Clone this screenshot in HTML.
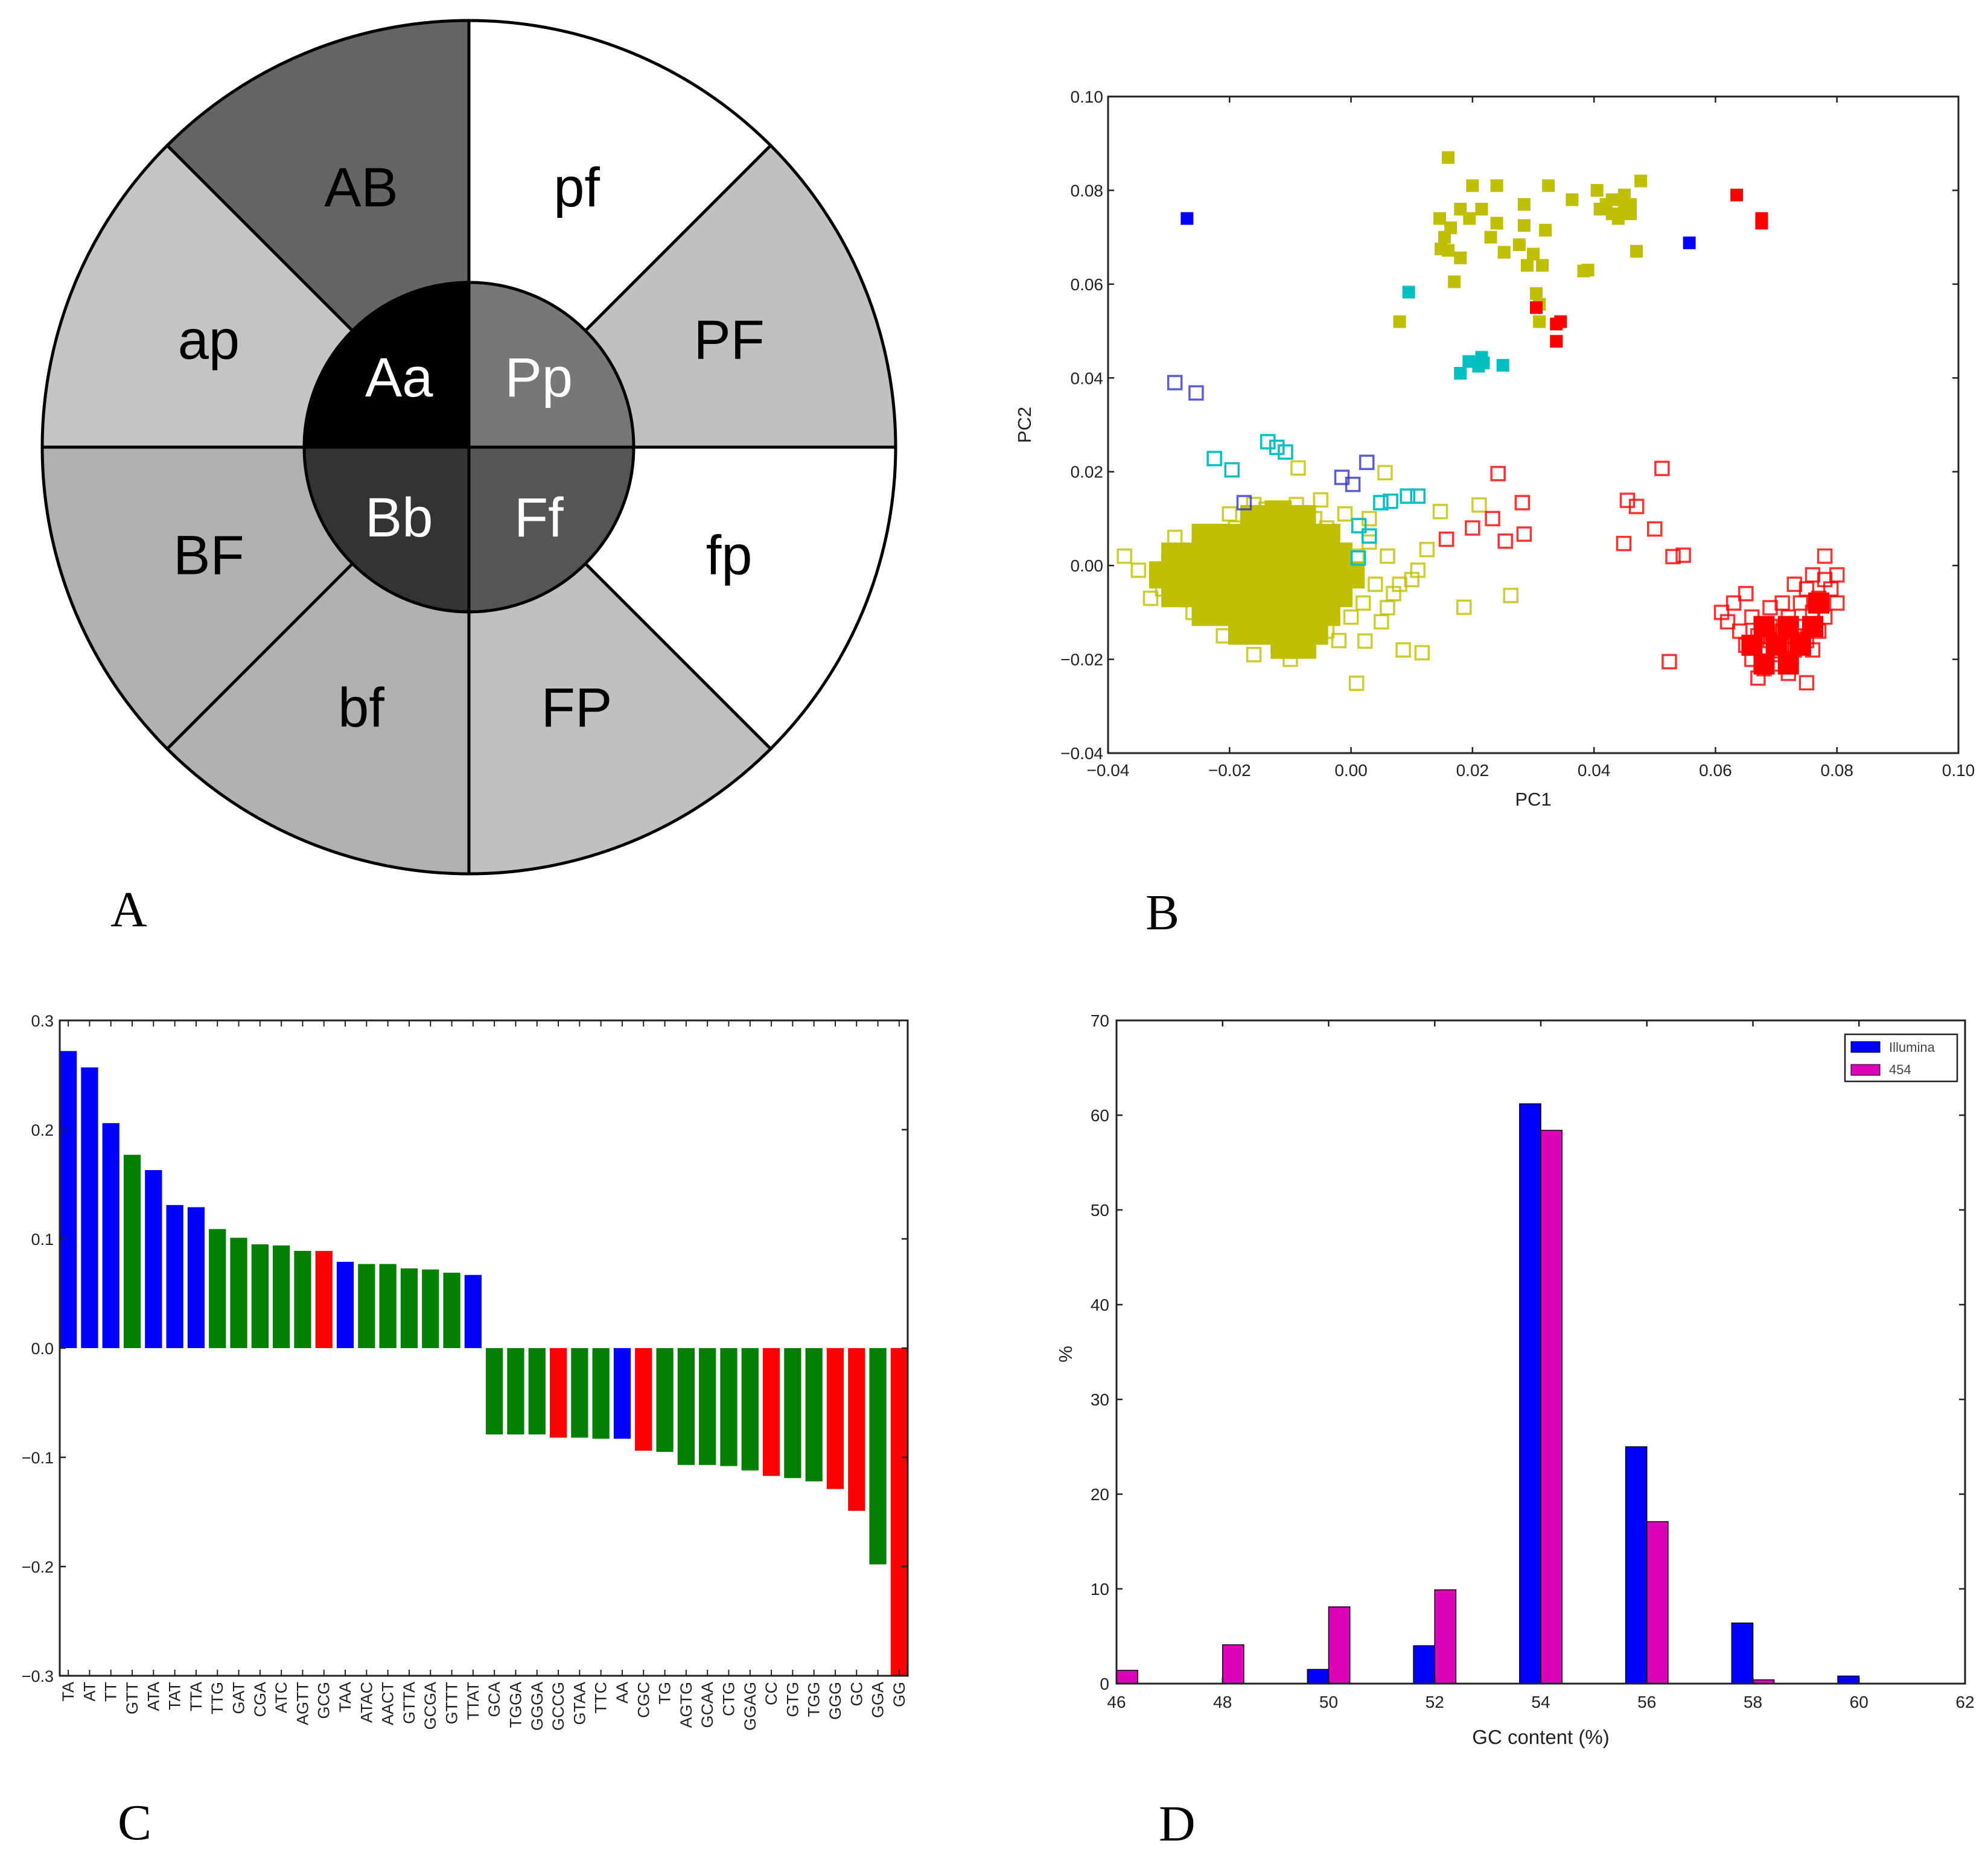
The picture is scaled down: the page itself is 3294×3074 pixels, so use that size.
<!DOCTYPE html>
<html><head><meta charset="utf-8">
<style>
html,body{margin:0;padding:0;background:#fff;}
svg{display:block;}
text{font-family:"Liberation Sans","DejaVu Sans",sans-serif;}
.serif{font-family:"Liberation Serif",serif;}
</style></head>
<body>
<svg id="fig" xmlns="http://www.w3.org/2000/svg" width="3294" height="3074" viewBox="0 0 3294 3074">
<rect x="0" y="0" width="3294" height="3074" fill="#fff"/>
<g id="panelA"></g>
<g id="panelB"></g>
<g id="panelC"></g>
<g id="panelD"></g>
<text class="serif" x="183" y="1535" font-size="84">A</text>
<text class="serif" x="1898" y="1540" font-size="84">B</text>
<text class="serif" x="195" y="3048" font-size="84">C</text>
<text class="serif" x="1920" y="3050" font-size="84">D</text>
</svg>
<script>
// ---------- Panel A data ----------
const outerLabels = ["pf","PF","fp","FP","bf","BF","ap","AB"];
const outerFills = ["#ffffff","#c0c0c0","#ffffff","#c0c0c0","#b0b0b0","#b0b0b0","#c4c4c4","#646464"];
const innerLabels = ["Pp","Ff","Bb","Aa"];
const innerFills = ["#777777","#555555","#333333","#000000"];

// ---------- Panel B data ----------
const yellowFilled = [[0.016,0.087],[0.020,0.081],[0.024,0.081],[0.0325,0.081],[0.0477,0.082],[0.0405,0.080],[0.018,0.076],[0.0215,0.076],[0.0285,0.077],[0.0364,0.078],[0.0146,0.074],[0.0195,0.074],[0.024,0.073],[0.0285,0.0725],[0.032,0.0715],[0.0164,0.072],[0.0154,0.070],[0.0148,0.0675],[0.016,0.0672],[0.018,0.0656],[0.023,0.070],[0.0252,0.0668],[0.0277,0.0684],[0.030,0.0664],[0.0315,0.064],[0.029,0.064],[0.017,0.0605],[0.0383,0.0628],[0.039,0.063],[0.047,0.067],[0.0305,0.058],[0.031,0.0557],[0.031,0.052],[0.008,0.052],[0.042,0.077],[0.044,0.078],[0.045,0.076],[0.043,0.075],[0.046,0.077],[0.041,0.076],[0.044,0.074],[0.045,0.079],[0.046,0.075],[0.043,0.078]];
const blueFilled = [[-0.027,0.074],[0.0557,0.0688]];
const redFilled = [[0.0635,0.079],[0.0676,0.074],[0.0676,0.073],[0.0305,0.055],[0.0338,0.0515],[0.0345,0.052],[0.0338,0.0478]];
const cyanFilled = [[0.0095,0.0583],[0.018,0.041],[0.0194,0.0435],[0.0215,0.0444],[0.0218,0.0432],[0.021,0.0425],[0.025,0.0427]];
const blueOpen = [[-0.029,0.039],[-0.0255,0.0368],[-0.0176,0.0134],[-0.0015,0.0188],[0.0003,0.0173],[0.0026,0.022]];
const cyanOpen = [[-0.0225,0.0228],[-0.0196,0.0204],[-0.0137,0.0264],[-0.0122,0.0252],[-0.0108,0.0242],[0.0049,0.0134],[0.0065,0.0137],[0.0093,0.0148],[0.011,0.0148],[0.0013,0.0085],[0.003,0.0063],[0.0012,0.0016]];
const redOpen = [[0.0242,0.0196],[0.0512,0.0207],[0.0282,0.0134],[0.0233,0.010],[0.020,0.008],[0.0157,0.0056],[0.0254,0.0052],[0.0285,0.0067],[0.0455,0.0139],[0.047,0.0126],[0.050,0.0078],[0.0449,0.0047],[0.053,0.0019],[0.0547,0.0022],[0.0524,-0.0205],
[0.061,-0.010],[0.062,-0.012],[0.063,-0.008],[0.064,-0.014],[0.065,-0.017],[0.066,-0.011],[0.066,-0.020],[0.067,-0.015],[0.068,-0.018],[0.068,-0.022],[0.069,-0.013],[0.069,-0.016],[0.070,-0.019],[0.070,-0.021],[0.071,-0.014],[0.071,-0.017],[0.072,-0.011],[0.072,-0.020],[0.073,-0.015],[0.073,-0.018],[0.074,-0.008],[0.074,-0.013],[0.075,-0.016],[0.075,-0.005],[0.076,-0.010],[0.076,-0.002],[0.077,-0.007],[0.077,-0.014],[0.078,-0.003],[0.078,-0.011],[0.079,-0.005],[0.080,-0.002],[0.080,-0.008],[0.078,0.002],[0.075,-0.025],[0.067,-0.024],[0.072,-0.023],[0.069,-0.009],[0.065,-0.006],[0.071,-0.008],[0.073,-0.004],[0.076,-0.018]];
const redCore = [[0.068,-0.013],[0.072,-0.013],[0.076,-0.013],[0.066,-0.017],[0.070,-0.017],[0.074,-0.017],[0.068,-0.021],[0.072,-0.021],[0.077,-0.008]];
const yellowOpen = [[-0.0373,0.002],[-0.0087,0.0208],[0.0056,0.0198],[0.0147,0.0115],[0.0211,0.0129],[0.0125,0.0034],[0.0186,-0.0089],[0.0263,-0.0064],[0.0023,-0.0161],[0.0086,-0.018],[0.0117,-0.0186],[0.0009,-0.0251],[0.0709,-0.0144],
[-0.032,-0.002],[-0.030,0.001],[-0.031,-0.005],[-0.028,-0.003],[-0.027,0.002],[-0.026,-0.006],[-0.025,0.004],[-0.024,-0.001],[-0.024,-0.009],[-0.023,0.006],[-0.022,-0.004],[-0.021,-0.011],[-0.020,0.003],[-0.019,0.008],[-0.018,-0.013],[-0.017,0.010],[-0.015,-0.015],[-0.014,0.012],[-0.012,-0.017],[-0.011,0.009],[-0.009,0.013],[-0.009,-0.015],[-0.007,-0.018],[-0.006,0.010],[-0.004,-0.014],[-0.004,0.008],[-0.002,-0.016],[-0.001,0.011],[0.000,-0.011],[0.001,0.002],[0.002,-0.008],[0.003,0.005],[0.004,-0.004],[0.005,-0.012],[0.006,0.002],[0.007,-0.006],[0.008,-0.004],[0.010,-0.003],[0.011,-0.001],[-0.033,-0.007],[-0.029,0.006],[-0.026,-0.010],[-0.021,-0.015],[-0.016,-0.019],[-0.010,-0.020],[-0.020,0.011],[-0.016,0.013],[-0.035,-0.001],[0.003,0.010],[0.006,-0.009],[-0.005,0.014]];
const yellowCore = [[-0.016,0.010],[-0.012,0.011],[-0.008,0.010],
[-0.024,0.006],[-0.020,0.006],[-0.016,0.006],[-0.012,0.006],[-0.008,0.006],[-0.004,0.006],
[-0.029,0.002],[-0.026,0.002],[-0.022,0.002],[-0.018,0.002],[-0.014,0.002],[-0.010,0.002],[-0.006,0.002],[-0.002,0.002],
[-0.031,-0.002],[-0.028,-0.002],[-0.024,-0.002],[-0.020,-0.002],[-0.016,-0.002],[-0.012,-0.002],[-0.008,-0.002],[-0.004,-0.002],[0.000,-0.002],
[-0.029,-0.006],[-0.026,-0.006],[-0.022,-0.006],[-0.018,-0.006],[-0.014,-0.006],[-0.010,-0.006],[-0.006,-0.006],[-0.002,-0.006],
[-0.024,-0.010],[-0.020,-0.010],[-0.016,-0.010],[-0.012,-0.010],[-0.008,-0.010],[-0.004,-0.010],
[-0.018,-0.014],[-0.014,-0.014],[-0.010,-0.014],[-0.006,-0.014],
[-0.011,-0.017],[-0.008,-0.017]];
const bXTicks = [-0.04,-0.02,0.00,0.02,0.04,0.06,0.08,0.10];
const bYTicks = [-0.04,-0.02,0.00,0.02,0.04,0.06,0.08,0.10];

// ---------- Panel C data ----------
const kmers = ["TA","AT","TT","GTT","ATA","TAT","TTA","TTG","GAT","CGA","ATC","AGTT","GCG","TAA","ATAC","AACT","GTTA","GCGA","GTTT","TTAT","GCA","TGGA","GGGA","GCCG","GTAA","TTC","AA","CGC","TG","AGTG","GCAA","CTG","GGAG","CC","GTG","TGG","GGG","GC","GGA","GG"];
const kmerValues = [0.272,0.257,0.206,0.177,0.163,0.131,0.129,0.109,0.101,0.095,0.094,0.089,0.089,0.079,0.077,0.077,0.073,0.072,0.069,0.067,-0.079,-0.079,-0.079,-0.082,-0.082,-0.083,-0.083,-0.094,-0.095,-0.107,-0.107,-0.108,-0.112,-0.117,-0.119,-0.122,-0.129,-0.149,-0.198,-0.300];
const kmerGroups = ["b","b","b","g","b","b","b","g","g","g","g","g","r","b","g","g","g","g","g","b","g","g","g","r","g","g","b","r","g","g","g","g","g","r","g","g","r","r","g","r"];
const cYTicks = [0.3,0.2,0.1,0.0,-0.1,-0.2,-0.3];

// ---------- Panel D data ----------
const gcBins = [46,48,50,52,54,56,58,60,62];
const illumina = [0,0,1.5,4,61.2,25,6.4,0.8,0];
const fourFiftyFour = [1.4,4.1,8.1,9.9,58.4,17.1,0.4,0,0];
const dXTicks = [46,48,50,52,54,56,58,60,62];
const dYTicks = [0,10,20,30,40,50,60,70];

const NS = "http://www.w3.org/2000/svg";
function mk(tag, attrs, parent){
  const e = document.createElementNS(NS, tag);
  for (const k in attrs) e.setAttribute(k, attrs[k]);
  parent.appendChild(e);
  return e;
}
const TXT = "#222";

// ================= Panel A =================
(function(){
  const g = document.getElementById('panelA');
  const cx = 777, cy = 741, R = 707, r = 273;
  function pt(rad, deg){ const a = (deg-90)*Math.PI/180; return [cx+rad*Math.cos(a), cy+rad*Math.sin(a)]; }
  outerLabels.forEach((lab,i)=>{
    const a0 = i*45, a1 = a0+45;
    const p0 = pt(R,a0), p1 = pt(R,a1);
    const p = mk('path',{d:`M${cx},${cy} L${p0[0]},${p0[1]} A${R},${R} 0 0 1 ${p1[0]},${p1[1]} Z`, fill:outerFills[i], stroke:'#000','stroke-width':5}, g);
    
    
    const c = pt(R*0.66, a0+22.5);
    const t = mk('text',{x:c[0], y:c[1]+32, 'font-size':92, 'text-anchor':'middle', fill:'#000', 'font-family':'"DejaVu Sans", sans-serif'}, g);
    t.textContent = lab;
    
    
  });
  innerLabels.forEach((lab,i)=>{
    const a0 = i*90, a1 = a0+90;
    const p0 = pt(r,a0), p1 = pt(r,a1);
    const p = mk('path',{d:`M${cx},${cy} L${p0[0]},${p0[1]} A${r},${r} 0 0 1 ${p1[0]},${p1[1]} Z`, fill:innerFills[i], stroke:'#000','stroke-width':5}, g);
    
    
    const c = pt(r*0.6, a0+45);
    const t = mk('text',{x:c[0], y:c[1]+32, 'font-size':92, 'text-anchor':'middle', fill:'#fff', 'font-family':'"DejaVu Sans", sans-serif'}, g);
    t.textContent = lab;
    
    
  });
})();

// ================= Panel B =================
(function(){
  const g = document.getElementById('panelB');
  const L=1836, Rr=3245, T=160, B=1248;
  const xs = v => L + (v+0.04)/0.14*(Rr-L);
  const ys = v => B - (v+0.04)/0.14*(B-T);
  const clip = mk('clipPath',{id:'bclip'}, g);
  mk('rect',{x:L,y:T,width:Rr-L,height:B-T}, clip);
  const pg = mk('g',{'clip-path':'url(#bclip)'}, g);
  function sq(arr, color, filled, size, name, op){
    arr.forEach(p=>{
      const s = size;
      const e = mk('rect',{x:xs(p[0])-s/2, y:ys(p[1])-s/2, width:s, height:s,
        fill: filled?color:'none', stroke:color, 'stroke-width': filled?1:3.5, 'stroke-opacity': op||1}, pg);
      
      
    });
  }
  sq(yellowCore,'#bfbf00',true,44,'yellow-cluster-core');
  sq(yellowOpen,'#bfbf00',false,22,'yellow-open-point',0.8);
  sq(redCore,'#ff0000',true,34,'red-cluster-core');
  sq(redOpen,'#ff0000',false,22,'red-open-point',0.8);
  sq(cyanOpen,'#00bfbf',false,22,'cyan-open-point');
  sq(blueOpen,'#3333cc',false,22,'blue-open-point',0.8);
  sq(yellowFilled,'#bfbf00',true,20,'yellow-filled-point');
  sq(cyanFilled,'#00bfbf',true,20,'cyan-filled-point');
  sq(redFilled,'#ff0000',true,20,'red-filled-point');
  sq(blueFilled,'#0000ff',true,20,'blue-filled-point');
  const fr = mk('rect',{x:L,y:T,width:Rr-L,height:B-T,fill:'none',stroke:'#222','stroke-width':3}, g);
  
  
  bXTicks.forEach(v=>{
    const x = xs(v);
    mk('line',{x1:x,y1:B,x2:x,y2:B-10,stroke:'#222','stroke-width':2.5}, g);
    mk('line',{x1:x,y1:T,x2:x,y2:T+10,stroke:'#222','stroke-width':2.5}, g);
    const t = mk('text',{x:x,y:B+38,'font-size':28,'text-anchor':'middle',fill:TXT}, g);
    t.textContent = (v<0?'\u2212':'') + Math.abs(v).toFixed(2);
    
    
  });
  bYTicks.forEach(v=>{
    const y = ys(v);
    mk('line',{x1:L,y1:y,x2:L+10,y2:y,stroke:'#222','stroke-width':2.5}, g);
    mk('line',{x1:Rr,y1:y,x2:Rr-10,y2:y,stroke:'#222','stroke-width':2.5}, g);
    const t = mk('text',{x:L-8,y:y+10,'font-size':28,'text-anchor':'end',fill:TXT}, g);
    t.textContent = (v<0?'\u2212':'') + Math.abs(v).toFixed(2);
    
    
  });
  const xl = mk('text',{x:(L+Rr)/2,y:1335,'font-size':31,'text-anchor':'middle',fill:TXT}, g);
  xl.textContent='PC1';
  
  
  const yl = mk('text',{x:1708,y:(T+B)/2,'font-size':31,'text-anchor':'middle',fill:TXT,transform:`rotate(-90 1708 ${(T+B)/2})`}, g);
  yl.textContent='PC2';
  
  
})();

// ================= Panel C =================
(function(){
  const g = document.getElementById('panelC');
  const L=99, Rr=1504, T=1691, B=2777;
  const n = kmers.length;
  const xs = i => L + i/(n-0.2)*(Rr-L);
  const ys = v => T + (0.3-v)/0.6*(B-T);
  const colors = {b:'#0000ff', g:'#007f00', r:'#ff0000'};
  const clip = mk('clipPath',{id:'cclip'}, g);
  mk('rect',{x:L,y:T,width:Rr-L,height:B-T}, clip);
  const bg = mk('g',{'clip-path':'url(#cclip)'}, g);
  kmerValues.forEach((v,i)=>{
    const x0 = xs(i), x1 = xs(i+0.8);
    const y0 = ys(Math.max(v,0)), y1 = ys(Math.min(v,0));
    const e = mk('rect',{x:x0,y:y0,width:x1-x0,height:y1-y0,fill:colors[kmerGroups[i]]}, bg);
    
    
    const tx = xs(i+0.4);
    mk('line',{x1:tx,y1:B,x2:tx,y2:B-10,stroke:'#222','stroke-width':2}, g);
    mk('line',{x1:tx,y1:T,x2:tx,y2:T+10,stroke:'#222','stroke-width':2}, g);
    const t = mk('text',{x:tx+9,y:B+10,'font-size':27,'text-anchor':'end',fill:TXT,transform:`rotate(-90 ${tx+9} ${B+10})`}, g);
    t.textContent = kmers[i];
    
    
  });
  const fr = mk('rect',{x:L,y:T,width:Rr-L,height:B-T,fill:'none',stroke:'#222','stroke-width':3}, g);
  
  
  cYTicks.forEach(v=>{
    const y = ys(v);
    mk('line',{x1:L,y1:y,x2:L+10,y2:y,stroke:'#222','stroke-width':2.5}, g);
    mk('line',{x1:Rr,y1:y,x2:Rr-10,y2:y,stroke:'#222','stroke-width':2.5}, g);
    const t = mk('text',{x:L-10,y:y+10,'font-size':27,'text-anchor':'end',fill:TXT}, g);
    t.textContent = (v<0?'\u2212':'') + Math.abs(v).toFixed(1);
    
    
  });
})();

// ================= Panel D =================
(function(){
  const g = document.getElementById('panelD');
  const L=1850, Rr=3256, T=1691, B=2790;
  const xs = v => L + (v-46)/16*(Rr-L);
  const ys = v => B - v/70*(B-T);
  gcBins.forEach((b,i)=>{
    if (illumina[i]>0){
      const e = mk('rect',{x:xs(b-0.4),y:ys(illumina[i]),width:xs(b)-xs(b-0.4),height:B-ys(illumina[i]),fill:'#0000ff',stroke:'#000','stroke-width':1.5}, g);
      
      
    }
    if (fourFiftyFour[i]>0){
      const e = mk('rect',{x:xs(b),y:ys(fourFiftyFour[i]),width:xs(b+0.4)-xs(b),height:B-ys(fourFiftyFour[i]),fill:'#dd00bb',stroke:'#000','stroke-width':1.5}, g);
      
      
    }
  });
  const fr = mk('rect',{x:L,y:T,width:Rr-L,height:B-T,fill:'none',stroke:'#222','stroke-width':3}, g);
  
  
  dXTicks.forEach(v=>{
    const x = xs(v);
    mk('line',{x1:x,y1:B,x2:x,y2:B-10,stroke:'#222','stroke-width':2.5}, g);
    mk('line',{x1:x,y1:T,x2:x,y2:T+10,stroke:'#222','stroke-width':2.5}, g);
    const t = mk('text',{x:x,y:B+40,'font-size':28,'text-anchor':'middle',fill:TXT}, g);
    t.textContent = v;
    
    
  });
  dYTicks.forEach(v=>{
    const y = ys(v);
    mk('line',{x1:L,y1:y,x2:L+10,y2:y,stroke:'#222','stroke-width':2.5}, g);
    mk('line',{x1:Rr,y1:y,x2:Rr-10,y2:y,stroke:'#222','stroke-width':2.5}, g);
    const t = mk('text',{x:L-12,y:y+10,'font-size':28,'text-anchor':'end',fill:TXT}, g);
    t.textContent = v;
    
    
  });
  const xl = mk('text',{x:(L+Rr)/2,y:2890,'font-size':33,'text-anchor':'middle',fill:TXT}, g);
  xl.textContent='GC content (%)';
  
  
  const yl = mk('text',{x:1776,y:2244,'font-size':31,'text-anchor':'middle',fill:TXT,transform:'rotate(-90 1776 2244)'}, g);
  yl.textContent='%';
  
  
  const lg = mk('g',{}, g);
  
  
  mk('rect',{x:3057,y:1714,width:186,height:78,fill:'#fff',stroke:'#222','stroke-width':2.5}, lg);
  const e1 = mk('rect',{x:3067,y:1726,width:48,height:18,fill:'#0000ff',stroke:'#000','stroke-width':1}, lg);
  
  
  const e2 = mk('rect',{x:3067,y:1764,width:48,height:18,fill:'#dd00bb',stroke:'#000','stroke-width':1}, lg);
  
  
  const t1 = mk('text',{x:3130,y:1743,'font-size':22,fill:'#444'}, lg);
  t1.textContent='Illumina';
  
  
  const t2 = mk('text',{x:3130,y:1780,'font-size':22,fill:'#444'}, lg);
  t2.textContent='454';
  
  
})();
</script>
</body></html>
